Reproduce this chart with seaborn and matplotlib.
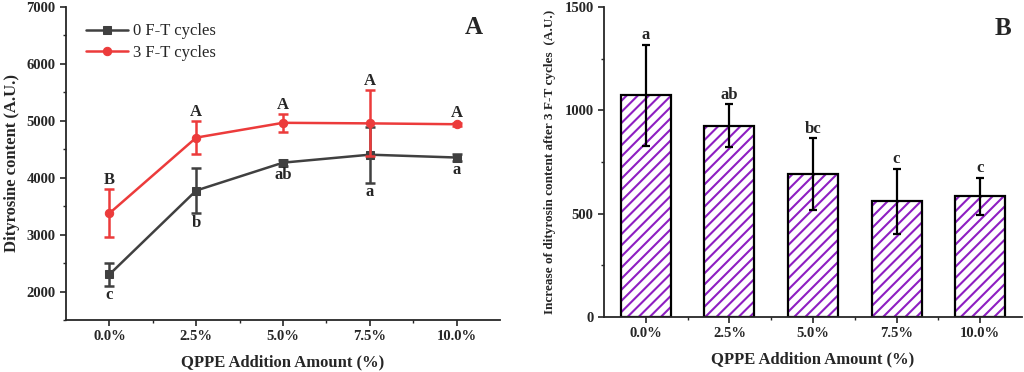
import numpy as np
import pandas as pd
import matplotlib
matplotlib.use('Agg')
import matplotlib.pyplot as plt
import seaborn as sns

# data
doses = ['0.0%', '2.5%', '5.0%', '7.5%', '10.0%']
ft0_mean = [2300, 3775, 4265, 4405, 4355]
ft0_err = [200, 400, 55, 490, 60]
ft3_mean = [3375, 4705, 4965, 4955, 4940]
ft3_err = [420, 290, 155, 580, 30]
ft0_letters = ['c', 'b', 'ab', 'a', 'a']
ft3_letters = ['B', 'A', 'A', 'A', 'A']

inc_mean = [1073, 926, 693, 560, 584]
inc_err = [245, 105, 173, 157, 90]
inc_letters = ['a', 'ab', 'bc', 'c', 'c']

sns.set_theme(style='ticks')
plt.rcParams['font.family'] = ['Liberation Serif', 'DejaVu Serif']
plt.rcParams['hatch.linewidth'] = 1.5
plt.rcParams['axes.linewidth'] = 1.3

GRAY = '#404040'
RED = '#EC3B3B'
PURPLE = '#8E1FC2'

fig = plt.figure(figsize=(10.24, 3.72), dpi=100)
W, H = 1024, 372
ax1 = fig.add_axes([66 / W, (H - 320) / H, (500 - 66) / W, (320 - 7) / H])
ax2 = fig.add_axes([604 / W, (H - 317) / H, (1022 - 604) / W, (317 - 7) / H])

pos = np.arange(len(doses))

# ---- panel A ----
ax1.errorbar(pos, ft0_mean, yerr=ft0_err, fmt='none', ecolor=GRAY, elinewidth=1.8, capsize=3.5, capthick=1.8)
sns.lineplot(x=pos, y=ft0_mean, ax=ax1, color=GRAY, marker='s', markersize=6,
             markeredgecolor=GRAY, linewidth=1.8, label='0 F-T cycles')
ax1.errorbar(pos, ft3_mean, yerr=ft3_err, fmt='none', ecolor=RED, elinewidth=1.8, capsize=3.5, capthick=1.8)
sns.lineplot(x=pos, y=ft3_mean, ax=ax1, color=RED, marker='o', markersize=6,
             markeredgecolor=RED, linewidth=1.8, label='3 F-T cycles')

for i in range(len(doses)):
    ax1.annotate(ft0_letters[i], (pos[i], ft0_mean[i] - ft0_err[i]), xytext=(0, -1),
                 textcoords='offset points', ha='center', va='top', fontsize=12, fontweight='bold')
    ax1.annotate(ft3_letters[i], (pos[i], ft3_mean[i] + ft3_err[i]), xytext=(0, 1),
                 textcoords='offset points', ha='center', va='bottom', fontsize=12, fontweight='bold')

ax1.set_xlim(-0.5, 4.5)
ax1.set_ylim(1500, 7000)
ax1.set_yticks(range(2000, 7001, 1000))
ax1.set_yticks(range(1500, 7001, 500), minor=True)
ax1.set_xticks(pos)
ax1.set_xticks(pos[:-1] + 0.5, minor=True)
ax1.set_xticklabels(doses)
ax1.set_xlabel('QPPE Addition Amount (%)', fontsize=12, fontweight='bold', labelpad=8)
ax1.set_ylabel('Dityrosine content (A.U.)', fontsize=12, fontweight='bold', labelpad=5)
ax1.legend(loc='upper left', frameon=False, fontsize=12, handlelength=2.5, handletextpad=0.3,
           bbox_to_anchor=(0.02, 0.985), borderaxespad=0.3, labelspacing=0.35)
ax1.text(0.94, 0.935, 'A', transform=ax1.transAxes, fontsize=18, fontweight='bold', ha='center', va='center')

# ---- panel B ----
df = pd.DataFrame({'dose': doses, 'inc': inc_mean})
sns.barplot(data=df, x='dose', y='inc', ax=ax2, width=0.6, color='white',
            edgecolor=PURPLE, linewidth=0, hatch='///')
sns.barplot(data=df, x='dose', y='inc', ax=ax2, width=0.6, fill=False,
            edgecolor='black', linewidth=1.6)
ax2.errorbar(pos, inc_mean, yerr=inc_err, fmt='none', ecolor='black', elinewidth=1.6, capsize=3, capthick=1.6)
for i in range(len(doses)):
    ax2.annotate(inc_letters[i], (pos[i], inc_mean[i] + inc_err[i]), xytext=(0, 1),
                 textcoords='offset points', ha='center', va='bottom', fontsize=12, fontweight='bold')

ax2.set_xlim(-0.5, 4.5)
ax2.set_ylim(0, 1500)
ax2.set_yticks(range(0, 1501, 500))
ax2.set_yticks(range(0, 1501, 250), minor=True)
ax2.set_xticks(pos[:-1] + 0.5, minor=True)
ax2.set_xlabel('QPPE Addition Amount (%)', fontsize=12, fontweight='bold', labelpad=8)
ax2.set_ylabel('Increase of dityrosin content after 3 F-T cycles  (A.U.)', fontsize=9.5, fontweight='bold', labelpad=6)
ax2.text(0.955, 0.93, 'B', transform=ax2.transAxes, fontsize=18, fontweight='bold', ha='center', va='center')

for ax in (ax1, ax2):
    sns.despine(ax=ax)
    ax.tick_params(which='major', direction='out', length=4, width=1.2, labelsize=10.5)
    ax.tick_params(which='minor', direction='out', length=2.5, width=1.0)
    for lab in ax.get_xticklabels() + ax.get_yticklabels():
        lab.set_fontweight('bold')

fig.savefig('out.png', dpi=100)
